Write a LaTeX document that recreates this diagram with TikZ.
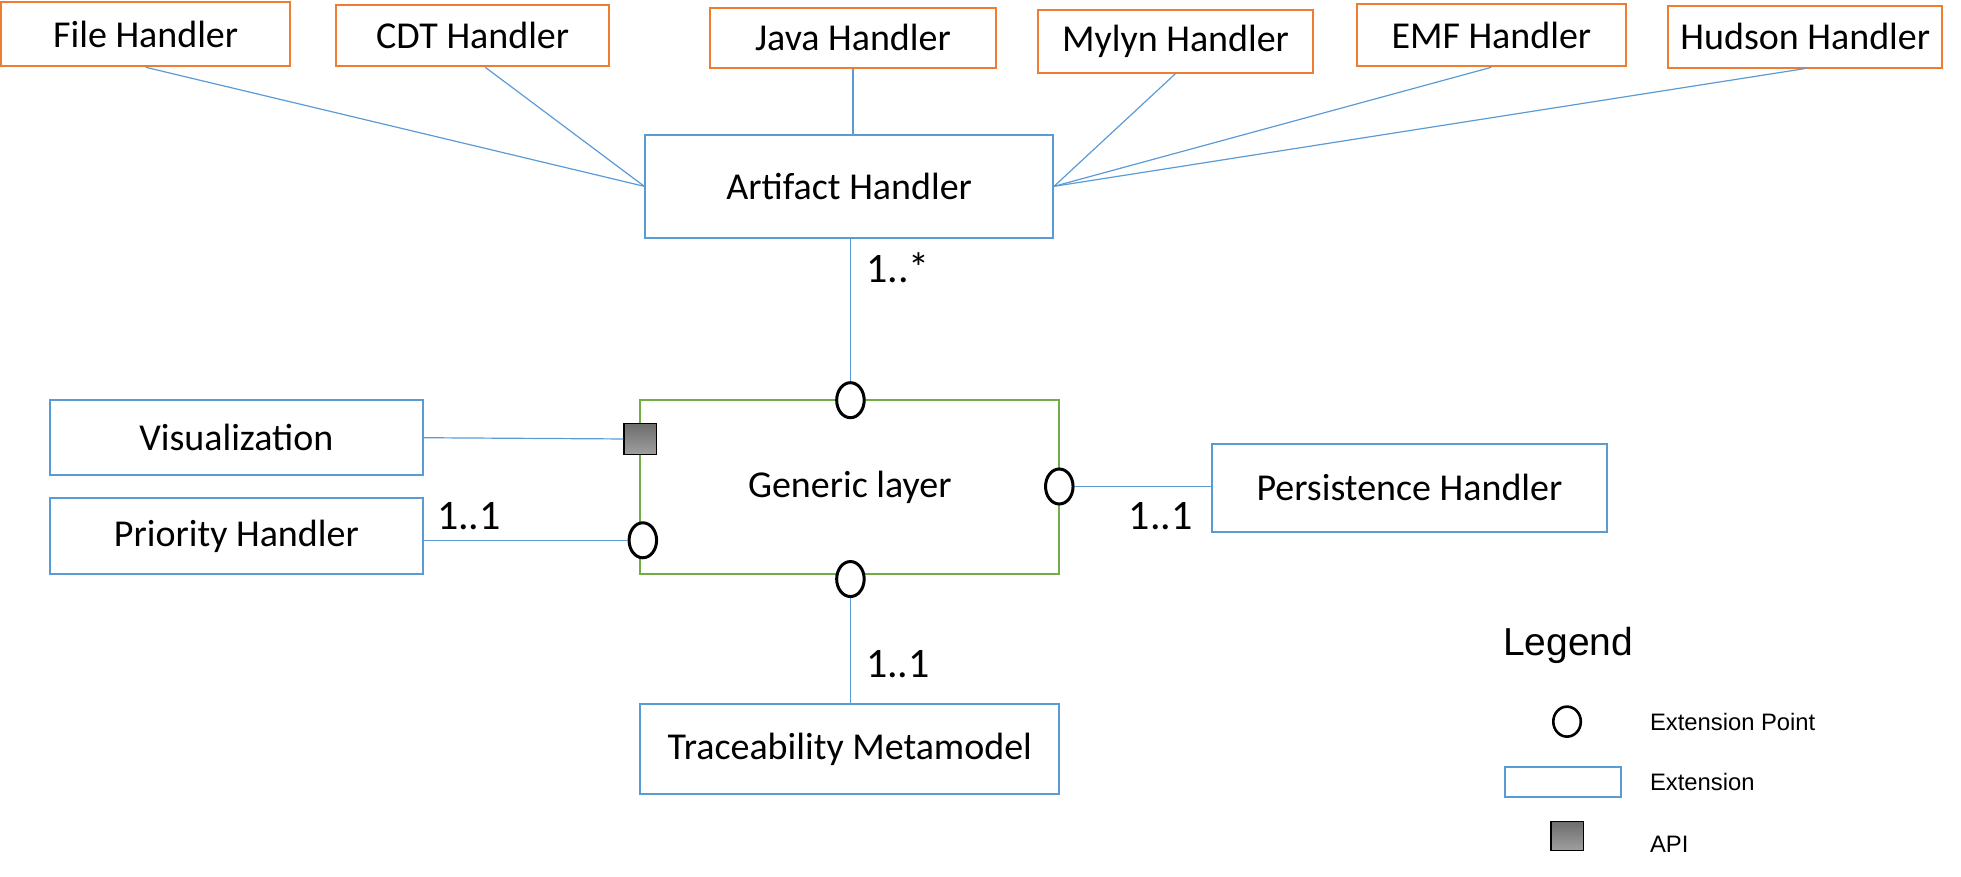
\documentclass[tikz,border=0pt]{standalone}
\usepackage{fontspec}
\setmainfont{Carlito}
\newfontfamily\arialf{Liberation Sans}
\usetikzlibrary{shapes.geometric,calc}
\definecolor{orangeC}{HTML}{ED7D31}
\definecolor{blueC}{HTML}{5B9BD5}
\definecolor{greenC}{HTML}{70AD47}
\def\u{0.6253pt}
\begin{document}
\begin{tikzpicture}[x=0.6253pt,y=-0.6253pt,
  boxtext/.style={font=\fontsize{19}{22}\selectfont, inner sep=0pt},
  obox/.style 2 args={boxtext, draw=orangeC, line width=1pt, minimum width=#1*\u, minimum height=#2*\u},
  bbox/.style 2 args={boxtext, draw=blueC, line width=1pt, minimum width=#1*\u, minimum height=#2*\u},
  gbox/.style 2 args={boxtext, draw=greenC, line width=1pt, minimum width=#1*\u, minimum height=#2*\u},
  conn/.style={draw=blueC, line width=0.6pt},
  ept/.style={ellipse, draw=black, fill=white, line width=1.5pt, minimum width=#1*\u, minimum height=28*\u, inner sep=0pt},
  ept/.default=22,
  api/.style 2 args={rectangle, draw=black, line width=0.8pt, top color=gray!85!black, bottom color=gray!75, minimum width=#1*\u, minimum height=#2*\u, inner sep=0pt},
  mult/.style={font=\fontsize{21}{24}\selectfont, inner sep=0pt},
  legtext/.style={font=\arialf\fontsize{11.9}{14}\selectfont, inner sep=0pt, anchor=west}
]
\useasboundingbox (0,0) rectangle (1568,701);

% top handlers
\node[obox={231}{51}] (file) at (116.5,27.5) {File Handler};
\node[obox={218}{49}] (cdt) at (378,28.5) {CDT Handler};
\node[obox={228}{48}] (java) at (682,30) {Java Handler};
\node[obox={220}{50}] (mylyn) at (940,33) {Mylyn Handler};
\node[obox={215}{50}] (emf) at (1192.5,28) {EMF Handler};
\node[obox={219}{49}] (hudson) at (1443.5,29.5) {Hudson Handler};

% artifact handler
\node[bbox={326}{82}] (artifact) at (679,149) {Artifact Handler};

% generic layer
\node[gbox={335}{139}] (generic) at (679.5,389.5) {Generic layer};

% side boxes
\node[bbox={298}{60}] (vis) at (189,350) {Visualization};
\node[bbox={298}{61}] (prio) at (189,428.5) {Priority Handler};
\node[bbox={316}{70}] (pers) at (1127,390) {Persistence Handler};
\node[bbox={335}{72}] (trace) at (679.5,599) {Traceability Metamodel};

% extension points and API
\node[ept] (eptop) at (680,320) {};
\node[ept] (epright) at (847,389) {};
\node[ept] (epbot) at (680,463) {};
\node[ept] (epleft) at (514,432) {};
\node[api={26}{25}] (apin) at (512,351) {};

% connectors from handlers
\draw[conn] (file.south) -- (artifact.west);
\draw[conn] ($(cdt.south)+(10,0)$) -- (artifact.west);
\draw[conn] (java.south) -- (java.south |- artifact.north);
\draw[conn] (mylyn.south) -- (artifact.east);
\draw[conn] (emf.south) -- (artifact.east);
\draw[conn] (hudson.south) -- (artifact.east);

% connectors to generic layer
\draw[conn] (artifact.south -| eptop) -- (eptop.north);
\draw[conn] (vis.east) -- (apin.west);
\draw[conn] (epleft.west -| prio.east) -- (epleft.west);
\draw[conn] (epright.east) -- (epright.east -| pers.west);
\draw[conn] (epbot.south) -- (epbot.south |- trace.north);

% multiplicities
\node[mult] (m1) at (718,214) {1..*};
\node[mult] (m2) at (375,413) {1..1};
\node[mult] (m3) at (928,413) {1..1};
\node[mult] (m4) at (718,531) {1..1};

% legend
\node[font=\arialf\fontsize{19.5}{23}\selectfont, inner sep=0pt] (legtitle) at (1254,516) {Legend};
\node[ellipse, draw=black, fill=white, line width=1.3pt, minimum width=22*\u, minimum height=24*\u, inner sep=0pt] (legcirc) at (1253,577) {};
\node[legtext] (legept) at (1319,577) {Extension Point};
\node[draw=blueC, line width=1pt, minimum width=93*\u, minimum height=24*\u, inner sep=0pt] (legrect) at (1249.5,625) {};
\node[legtext] (legext) at (1319,625) {Extension};
\node[api={26}{23}] (legapi) at (1253,668.5) {};
\node[legtext] (legapit) at (1319,675) {API};
\end{tikzpicture}
\end{document}
